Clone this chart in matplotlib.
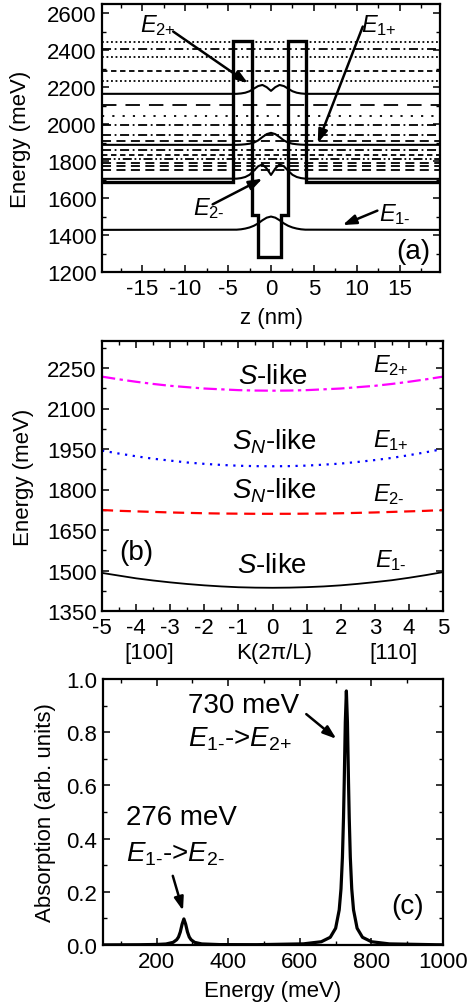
import matplotlib
matplotlib.use("Agg")
import matplotlib.pyplot as plt
from matplotlib.ticker import MultipleLocator, FormatStrFormatter

plt.rcParams['font.family'] = ['Liberation Sans', 'DejaVu Sans']
plt.rcParams['mathtext.fontset'] = 'custom'
plt.rcParams['mathtext.rm'] = 'Liberation Sans'
plt.rcParams['mathtext.it'] = 'Liberation Sans:italic'
plt.rcParams['mathtext.bf'] = 'Liberation Sans:bold'
plt.rcParams['axes.unicode_minus'] = False

# ---------------- panel (a): confinement potential and levels vs z
pot_z = [-19.7, -4.45, -4.45, -2.25, -2.25, -1.5, -1.5, 1.2, 1.2, 1.95, 1.95, 4.1, 4.1, 19.7]
pot_E = [1686, 1686, 2450, 2450, 1510, 1510, 1280, 1280, 1510, 1510, 2450, 2450, 1686, 1686]

# flat levels (energies)
level_E = [2447, 2406, 2365, 2289, 2235, 2105, 2045, 1998, 1942, 1910,
           1862, 1835, 1812, 1790, 1771, 1754]
level_kind = ['dot', 'dashdot', 'dot', 'shortdash', 'dot', 'longdash', 'sparsedot', 'dashdot',
              'dashdot', 'dash', 'dashdot', 'shortdash', 'dashdotdot', 'dash', 'dash', 'dash']

# the four states with their wave-function bumps
state_z = [-19.7, -4.0, -3.5, -3.0, -2.5, -2.0, -1.5, -1.0, -0.5, 0.0,
           0.5, 1.0, 1.5, 2.0, 2.5, 3.0, 3.5, 4.0, 19.7]
E1m_a = [1428, 1429, 1431, 1435, 1441, 1450, 1463, 1480, 1494, 1500,
         1494, 1480, 1463, 1450, 1441, 1435, 1431, 1429, 1428]
E2m_a = [1704, 1705, 1708, 1714, 1726, 1748, 1772, 1782, 1760, 1725,
         1760, 1782, 1772, 1748, 1726, 1714, 1708, 1705, 1704]
E1p_a = [1888, 1888, 1889, 1891, 1894, 1900, 1912, 1930, 1946, 1953,
         1946, 1930, 1912, 1900, 1894, 1891, 1889, 1888, 1888]
E2p_a = [2164, 2164, 2166, 2170, 2178, 2192, 2206, 2212, 2200, 2180,
         2200, 2212, 2206, 2192, 2178, 2170, 2166, 2164, 2164]

# ---------------- panel (b): dispersion vs K
K = [-5, -4.5, -4, -3.5, -3, -2.5, -2, -1.5, -1, -0.5, 0,
     0.5, 1, 1.5, 2, 2.5, 3, 3.5, 4, 4.5, 5]
E2p_b = [2218, 2208, 2199, 2191, 2184, 2179, 2174, 2171, 2168, 2166.5, 2166,
         2166.5, 2168, 2171, 2174, 2179, 2184, 2191, 2199, 2208, 2218]
E1p_b = [1944, 1933, 1923, 1914, 1907, 1900, 1895, 1891, 1888, 1886.5, 1886,
         1886.6, 1888.5, 1892, 1896, 1902, 1909, 1917, 1927, 1938, 1950]
E2m_b = [1724, 1721, 1719, 1717, 1715, 1713.5, 1712, 1711, 1710.5, 1710, 1710,
         1710, 1710.5, 1711, 1712, 1713.5, 1715, 1717, 1719, 1721, 1724]
E1m_b = [1491, 1481, 1471, 1463, 1456, 1450, 1445, 1441, 1438, 1436.5, 1436,
         1436.6, 1438.3, 1441, 1445, 1450.5, 1457, 1464, 1473, 1483, 1494]

# ---------------- panel (c): absorption spectrum
energy_c = [50, 150, 200, 226, 246, 256, 261, 266, 271, 276, 281, 286, 291, 296, 306, 326,
            376, 480, 610, 660, 685, 700, 710, 715, 719, 722, 724, 727, 730, 733, 736,
            738, 741, 745, 750, 760, 775, 800, 850, 980, 1000]
absorb_c = [0.0005, 0.001, 0.002, 0.0038, 0.010, 0.020, 0.030, 0.049, 0.078, 0.098, 0.078,
            0.049, 0.030, 0.020, 0.010, 0.004, 0.0015, 0.0012, 0.0043, 0.0123, 0.029, 0.063,
            0.132, 0.211, 0.330, 0.478, 0.611, 0.837, 0.955, 0.837, 0.611, 0.478, 0.330,
            0.211, 0.132, 0.063, 0.029, 0.0123, 0.0042, 0.001, 0.0008]

dash_map = {
    'dot': (0, (1, 1.5)),
    'dashdot': (0, (5, 2, 1, 2)),
    'shortdash': (0, (3, 2)),
    'longdash': (0, (8, 5)),
    'sparsedot': (0, (1.2, 4.5)),
    'dashdotdot': (0, (5, 1.5, 1, 1.5, 1, 1.5)),
    'dash': (0, (5, 3)),
}

TICK_FS = 16
LAB_FS = 16
BIG_FS = 20
E_FS = 17
SUB_E = r'$E_{\text{%s}}$'


def style_axes(ax):
    for s in ax.spines.values():
        s.set_linewidth(1.6)
    ax.tick_params(which='both', direction='in', top=True, right=True, labelsize=TICK_FS)
    ax.tick_params(which='major', length=5, width=1.1, pad=4)
    ax.tick_params(which='minor', length=3, width=1.0)


def arrow(ax, tail, head):
    ax.annotate('', xy=head, xytext=tail,
                arrowprops=dict(arrowstyle='-|>,head_length=0.8,head_width=0.28',
                                mutation_scale=10, lw=1.8, color='k',
                                shrinkA=0, shrinkB=0))


fig = plt.figure(figsize=(4.73, 10.03), dpi=100)

# ---- (a)
ax_a = fig.add_axes([102 / 473, 1 - 273 / 1003, 338 / 473, 268 / 1003])
for e, kind in zip(level_E, level_kind):
    ax_a.plot([-19.7, 19.7], [e, e], color='k', lw=1.3, linestyle=dash_map[kind])
for vals in (E1m_a, E2m_a, E1p_a, E2p_a):
    ax_a.plot(state_z, vals, color='k', lw=1.5)
ax_a.plot(pot_z, pot_E, color='k', lw=2.4, solid_joinstyle='miter')
ax_a.set_xlim(-19.7, 19.7)
ax_a.set_ylim(1200, 2650)
ax_a.xaxis.set_major_locator(MultipleLocator(5))
ax_a.xaxis.set_minor_locator(MultipleLocator(2.5))
ax_a.yaxis.set_major_locator(MultipleLocator(200))
ax_a.yaxis.set_minor_locator(MultipleLocator(100))
style_axes(ax_a)
ax_a.set_xlabel('z (nm)', fontsize=LAB_FS)
ax_a.set_ylabel('Energy (meV)', fontsize=LAB_FS)
ax_a.xaxis.set_label_coords(0.5, -0.13)
ax_a.yaxis.set_label_coords(-0.21, 0.5)

ax_a.text(-13.2, 2541, SUB_E % '2+', fontsize=E_FS, ha='center', va='center')
ax_a.text(12.6, 2541, SUB_E % '1+', fontsize=E_FS, ha='center', va='center')
ax_a.text(-7.2, 1551, SUB_E % '2-', fontsize=E_FS, ha='center', va='center')
ax_a.text(14.4, 1514, SUB_E % '1-', fontsize=E_FS, ha='center', va='center')
ax_a.text(16.6, 1311, '(a)', fontsize=20, ha='center', va='center')
arrow(ax_a, (-11.4, 2501), (-2.7, 2222))
arrow(ax_a, (10.7, 2528), (5.45, 1897))
arrow(ax_a, (-6.8, 1566), (-1.0, 1705))
arrow(ax_a, (12.4, 1532), (8.35, 1454))

# ---- (b)
ax_b = fig.add_axes([102 / 473, 1 - 612 / 1003, 341 / 473, 270 / 1003])
ax_b.plot(K, E2p_b, color='#FF00FF', lw=1.6, linestyle=(0, (6, 2, 1.5, 2)))
ax_b.plot(K, E1p_b, color='#0000FF', lw=1.6, linestyle=(0, (1, 2.5)))
ax_b.plot(K, E2m_b, color='#FF0000', lw=1.6, linestyle=(0, (5, 3)))
ax_b.plot(K, E1m_b, color='k', lw=1.3)
ax_b.set_xlim(-5, 5)
ax_b.set_ylim(1350, 2350)
ax_b.xaxis.set_major_locator(MultipleLocator(1))
ax_b.xaxis.set_minor_locator(MultipleLocator(0.5))
ax_b.yaxis.set_major_locator(MultipleLocator(150))
ax_b.yaxis.set_minor_locator(MultipleLocator(75))
style_axes(ax_b)
ax_b.set_yticks([1350, 1500, 1650, 1800, 1950, 2100, 2250])
ax_b.set_ylabel('Energy (meV)', fontsize=LAB_FS)
ax_b.yaxis.set_label_coords(-0.2, 0.5)
tb = ax_b.get_xaxis_transform()
ax_b.text(-3.6, -0.152, '[100]', fontsize=LAB_FS, ha='center', va='center', transform=tb)
ax_b.text(0.06, -0.152, 'K(2π/L)', fontsize=LAB_FS, ha='center', va='center', transform=tb)
ax_b.text(3.55, -0.152, '[110]', fontsize=LAB_FS, ha='center', va='center', transform=tb)

ax_b.text(-1.0, 2194, r'$S$-like', fontsize=BIG_FS, ha='left', va='baseline')
ax_b.text(-1.18, 1950, r'$S_N$-like', fontsize=BIG_FS, ha='left', va='baseline')
ax_b.text(-1.18, 1771, r'$S_N$-like', fontsize=BIG_FS, ha='left', va='baseline')
ax_b.text(-1.04, 1493, r'$S$-like', fontsize=BIG_FS, ha='left', va='baseline')
ax_b.text(2.96, 2240, SUB_E % '2+', fontsize=E_FS, ha='left', va='baseline')
ax_b.text(2.96, 1962, SUB_E % '1+', fontsize=E_FS, ha='left', va='baseline')
ax_b.text(2.96, 1760, SUB_E % '2-', fontsize=E_FS, ha='left', va='baseline')
ax_b.text(3.0, 1516, SUB_E % '1-', fontsize=E_FS, ha='left', va='baseline')
ax_b.text(-4.0, 1570, '(b)', fontsize=20, ha='center', va='center')

# ---- (c)
ax_c = fig.add_axes([103 / 473, 1 - 946 / 1003, 340 / 473, 266 / 1003])
ax_c.plot(energy_c, absorb_c, color='k', lw=2.3)
ax_c.set_xlim(50, 1000)
ax_c.set_ylim(0, 1.0)
ax_c.xaxis.set_major_locator(MultipleLocator(200))
ax_c.xaxis.set_minor_locator(MultipleLocator(100))
ax_c.yaxis.set_major_locator(MultipleLocator(0.2))
ax_c.yaxis.set_minor_locator(MultipleLocator(0.1))
ax_c.yaxis.set_major_formatter(FormatStrFormatter('%.1f'))
style_axes(ax_c)
ax_c.set_xlabel('Energy (meV)', fontsize=LAB_FS)
ax_c.set_ylabel('Absorption (arb. units)', fontsize=LAB_FS)
ax_c.xaxis.set_label_coords(0.5, -0.13)
ax_c.yaxis.set_label_coords(-0.138, 0.5)

ax_c.text(287, 0.875, '730 meV', fontsize=BIG_FS, ha='left', va='baseline')
ax_c.text(287, 0.749, r'$E_{\text{1-}}$->$E_{\text{2+}}$', fontsize=BIG_FS, ha='left', va='baseline')
ax_c.text(115, 0.455, '276 meV', fontsize=BIG_FS, ha='left', va='baseline')
ax_c.text(115, 0.317, r'$E_{\text{1-}}$->$E_{\text{2-}}$', fontsize=BIG_FS, ha='left', va='baseline')
ax_c.text(902, 0.145, '(c)', fontsize=20, ha='center', va='center')
arrow(ax_c, (618, 0.868), (702, 0.775))
arrow(ax_c, (245, 0.26), (273.5, 0.129))

fig.savefig('out.png', dpi=100)
